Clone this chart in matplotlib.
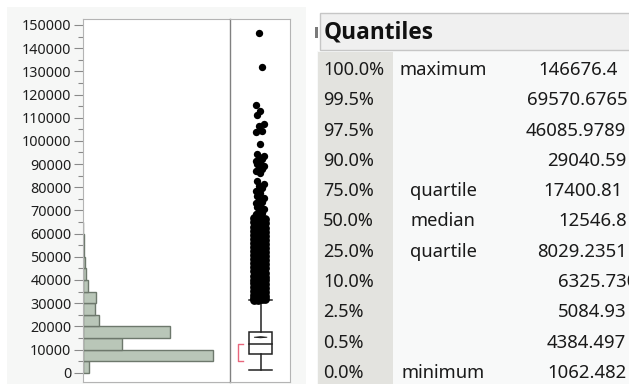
import numpy as np
import matplotlib.pyplot as plt
import matplotlib.patches as mpatches

# ── Data ──────────────────────────────────────────────────────────────────────
bin_edges = [0, 5000, 10000, 15000, 20000, 25000, 30000, 35000,
             40000, 45000, 50000, 55000, 60000, 65000]
bin_counts = [68, 1300, 395, 875, 165, 122, 132, 50, 30, 20, 16, 10, 6]

q_min = 1062.482
q1 = 8029.2351
median = 12546.8
q3 = 17400.81
upper_whisker = 31300
mean_val = 15300
mean_ci = (15050, 15550)
shortest_half = (4900, 12300)

# outliers in the solid band just above the upper whisker
outliers_dense = [
    31300, 31500, 31700, 31900, 32200, 32500, 32900, 33300, 33600, 34000,
    34500, 34800, 35200, 35700, 36100, 36400, 36900, 37300, 37600, 38100,
    38500, 38900, 39400, 39800, 40200, 40600, 41100, 41500, 41900, 42400,
    42800, 43200, 43700, 44100, 44600, 45000, 45400, 45900, 46300, 46800,
    47200, 47600, 48100, 48500, 49000, 49400, 49800, 50300, 50700, 51200,
    51600, 52000, 52500, 52900, 53400, 53800, 54200, 54700, 55100, 55600,
    56000, 56400, 56900, 57300, 57800, 58200, 58600, 59100, 59500, 60000,
    60400, 60800, 61300, 61700, 62200, 62600, 63000, 63500, 63900, 64400,
    64800, 65300, 65700, 66200, 66800, 67400,
]
# sparser outliers higher up
outliers_upper = [
    68300, 69100, 69900, 70600, 71400, 72200, 73000, 73800, 74600, 75500,
    76400, 77400, 78500, 79600, 80600, 81600, 82600, 86200, 87000, 87700,
    88400, 89100, 89900, 90600, 91300, 92100, 92900, 93600, 94400, 98500,
    104000, 104400, 106400, 107300, 111200, 112900, 115500, 132000, 146676.4,
]

quant_pct = ["100.0%", "99.5%", "97.5%", "90.0%", "75.0%", "50.0%",
             "25.0%", "10.0%", "2.5%", "0.5%", "0.0%"]
quant_name = ["maximum", "", "", "", "quartile", "median", "quartile",
              "", "", "", "minimum"]
quant_val = ["146676.4", "69570.6765", "46085.9789", "29040.59", "17400.81",
             "12546.8", "8029.2351", "6325.730", "5084.93", "4384.497",
             "1062.482"]
# left edge of each (clipped) value string, px
val_x = [538, 527, 526, 547, 543, 558, 537, 558, 558, 547, 547]

# ── Layout helpers (pixels) ───────────────────────────────────────────────────
W, H = 629, 384
FONT = "Noto Sans"
HIST_FILL = "#b9c6b8"
HIST_EDGE = "#6d786c"
FRAME = "#b4b4b4"
TXT = "#1a1a1a"

fig = plt.figure(figsize=(W / 100, H / 100), dpi=100)
fig.patch.set_facecolor("white")

bg = fig.add_axes([0, 0, 1, 1])
bg.set_xlim(0, W)
bg.set_ylim(H, 0)
bg.axis("off")

# panel backgrounds
bg.add_patch(mpatches.Rectangle((7, 7), 299, 380, color="#f6f7f6", lw=0))
bg.add_patch(mpatches.Rectangle((317, 51), 320, 340, color="#f8f9f9", lw=0))
bg.add_patch(mpatches.Rectangle((318, 52), 75, 340, color="#e3e3df", lw=0))
bg.add_patch(mpatches.Rectangle((320, 13), 320, 37, facecolor="#f0f0f0",
                                edgecolor="#c6c6c6", lw=1))
bg.add_patch(mpatches.Rectangle((315, 27), 2.5, 11, color="#7a7a7a", lw=0))

# ── Quantiles table ───────────────────────────────────────────────────────────
bg.text(324, 32, "Quantiles", fontsize=16.3, fontweight="bold",
        family=["Open Sans", "DejaVu Sans"], ha="left", va="center",
        color="#111111")
row_y = 70
for i, (p, n, v) in enumerate(zip(quant_pct, quant_name, quant_val)):
    y = row_y + i * 30.3
    bg.text(323, y, p, fontsize=13, family=FONT, ha="left", va="center",
            color=TXT)
    if n:
        bg.text(443, y, n, fontsize=13.2, family=FONT, ha="center",
                va="center", color=TXT)
    bg.text(val_x[i], y, v, fontsize=13.4, family=FONT, ha="left",
            va="center", color=TXT)

# ── Histogram + box plot ──────────────────────────────────────────────────────
px_per_unit = 347.7 / 150000
ymax = (372.7 - 19) / px_per_unit
ymin = (372.7 - 382) / px_per_unit

ax_h = fig.add_axes([82.5 / W, 1 - 382 / H, (230 - 82.5) / W, 363 / H])
ax_b = fig.add_axes([230 / W, 1 - 382 / H, 60 / W, 363 / H])

ax_h.barh(bin_edges[:-1], bin_counts, height=5000, align="edge",
          color=HIST_FILL, edgecolor=HIST_EDGE, linewidth=1.0)
ax_h.set_xlim(0, max(bin_counts) * 147.5 / 130.7)
ax_h.set_ylim(ymin, ymax)
ax_h.set_xticks([])
ax_h.set_yticks(np.arange(0, 150001, 10000))
ax_h.set_yticks(np.arange(5000, 150001, 10000), minor=True)
ax_h.tick_params(axis="y", which="major", length=6.5, width=0.8,
                 color="#8a8a8a", pad=1.5, labelsize=10.3, labelcolor="#1e1e1e")
ax_h.tick_params(axis="y", which="minor", length=3.6, width=0.8,
                 color="#8a8a8a")
for lab in ax_h.get_yticklabels():
    lab.set_family(FONT)
for s in ["left", "top", "bottom"]:
    ax_h.spines[s].set_color(FRAME)
ax_h.spines["right"].set_visible(False)

ax_b.set_ylim(ymin, ymax)
ax_b.set_xlim(0, 1)
ax_b.set_xticks([])
ax_b.set_yticks([])
for s in ["top", "bottom", "right"]:
    ax_b.spines[s].set_color(FRAME)
ax_b.spines["left"].set_color("#808080")
ax_b.spines["left"].set_linewidth(1.0)

cx, bw = 0.51, 0.39
ax_b.add_patch(mpatches.Rectangle((cx - bw / 2, q1), bw, q3 - q1,
                                  facecolor="white", edgecolor="#222222", lw=1.1))
ax_b.plot([cx - bw / 2, cx + bw / 2], [median, median], color="#222222", lw=1.1)
ax_b.plot([cx, cx], [q3, upper_whisker], color="#222222", lw=1.1)
ax_b.plot([cx, cx], [q_min, q1], color="#222222", lw=1.1)
ax_b.plot([cx - bw / 2, cx + bw / 2], [q_min, q_min], color="#222222", lw=1.1)
ax_b.plot([cx - bw / 2, cx + bw / 2], [upper_whisker, upper_whisker],
          color="#222222", lw=1.1)
ax_b.add_patch(mpatches.Polygon([[cx - 0.11, mean_val], [cx, mean_ci[1]],
                                 [cx + 0.11, mean_val], [cx, mean_ci[0]]],
                                color="#222222", lw=0.6))

# shortest half bracket
bx0, bx1 = 0.14, 0.21
ax_b.plot([bx1, bx0, bx0, bx1],
          [shortest_half[0], shortest_half[0], shortest_half[1], shortest_half[1]],
          color="#e8667c", lw=1.0)

# jittered outlier points
ocx = 0.495
jit_dense = [-0.09, -0.03, 0.03, 0.09]
jit_upper = [-0.06, 0.04, -0.01, 0.07, -0.04, 0.01]
xd = [ocx + jit_dense[i % len(jit_dense)] for i in range(len(outliers_dense))]
xu = [ocx + jit_upper[i % len(jit_upper)] for i in range(len(outliers_upper))]
ax_b.scatter(xd, outliers_dense, s=40, color="black", linewidths=0, zorder=3)
ax_b.scatter(xu, outliers_upper, s=28, color="black", linewidths=0, zorder=3)

plt.savefig("out.png", dpi=100)
